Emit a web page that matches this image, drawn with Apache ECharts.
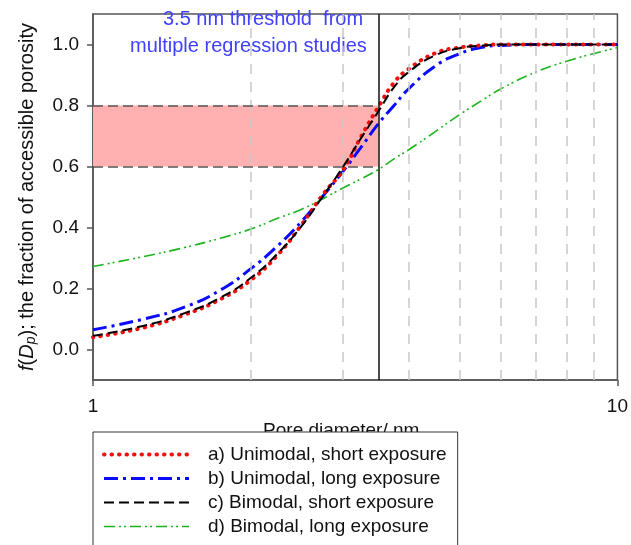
<!DOCTYPE html>
<html>
<head>
<meta charset="utf-8">
<script src="https://cdn.jsdelivr.net/npm/echarts@6/dist/echarts.min.js"></script>
<style>
  html, body { margin: 0; padding: 0; background: #fff; }
  #chart { width: 631px; height: 545px; }
</style>
</head>
<body>
<div id="chart"></div>
<script>
// pore diameter (nm) where the curves were read
var diameters = [1, 1.25, 1.5, 1.75, 2, 2.25, 2.5, 2.75, 3, 3.25, 3.5, 3.75, 4, 4.5, 5, 5.5, 6, 7, 8, 9, 10];

var uniShort = [0.040, 0.072, 0.115, 0.165, 0.228, 0.31, 0.41, 0.51, 0.59, 0.70, 0.795, 0.875, 0.92, 0.972, 0.99, 0.997, 1.0, 1.0, 1.0, 1.0, 1.0];
var uniLong  = [0.065, 0.10, 0.14, 0.195, 0.265, 0.34, 0.42, 0.505, 0.585, 0.665, 0.74, 0.80, 0.855, 0.93, 0.97, 0.99, 0.997, 1.0, 1.0, 1.0, 1.0];
var biShort  = [0.045, 0.078, 0.12, 0.17, 0.235, 0.315, 0.405, 0.505, 0.60, 0.695, 0.78, 0.86, 0.91, 0.965, 0.988, 0.996, 1.0, 1.0, 1.0, 1.0, 1.0];
var biLong   = [0.272, 0.305, 0.335, 0.365, 0.395, 0.43, 0.46, 0.495, 0.53, 0.56, 0.59, 0.625, 0.655, 0.715, 0.77, 0.815, 0.855, 0.91, 0.945, 0.97, 0.99];

var seriesNames = [
  'a) Unimodal, short exposure',
  'b) Unimodal, long exposure',
  'c) Bimodal, short exposure',
  'd) Bimodal, long exposure'
];

var yTicks = [0, 0.2, 0.4, 0.6, 0.8, 1.0];
var minorDiameters = [2, 3, 4, 5, 6, 7, 8, 9];
var threshold = 3.5;
var band = [0.6, 0.8];

function pairs(ys) {
  return diameters.map(function (d, i) { return [d, ys[i]]; });
}

var chart = echarts.init(document.getElementById('chart'));
var font = 'Liberation Sans, Arial, sans-serif';

var option = {
  animation: false,
  textStyle: { fontFamily: font },
  grid: {
    left: 93, right: 12, top: 14, bottom: 165,
    show: true, borderColor: '#555', borderWidth: 1.5
  },
  xAxis: {
    type: 'log',
    logBase: 10,
    min: 1,
    max: 10,
    name: 'Pore diameter/ nm',
    nameLocation: 'middle',
    nameGap: 39,
    nameTextStyle: { fontSize: 19, color: '#111', padding: [0, 28, 0, 0] },
    axisLine: { onZero: false, lineStyle: { color: '#555', width: 1.5 } },
    axisTick: { show: true, length: 6, lineStyle: { color: '#555', width: 1.5 } },
    axisLabel: { fontSize: 19, color: '#111', margin: 17 },
    splitLine: { show: false }
  },
  yAxis: {
    type: 'value',
    min: -0.1,
    max: 1.1,
    name: '{i|f}({i|D}{sub|p}); the fraction of accessible porosity',
    nameLocation: 'middle',
    nameGap: 55,
    nameRotate: 90,
    nameTextStyle: {
      fontSize: 20, color: '#111',
      rich: {
        i: { fontSize: 20, fontStyle: 'italic', color: '#111' },
        sub: { fontSize: 14, fontStyle: 'italic', color: '#111', verticalAlign: 'bottom', padding: [7, 0, 0, 0] }
      }
    },
    axisLine: { show: true, onZero: false, lineStyle: { color: '#555', width: 1.5 } },
    axisTick: { show: true, length: 6, customValues: yTicks, lineStyle: { color: '#555', width: 1.5 } },
    axisLabel: {
      fontSize: 19, color: '#111', margin: 14, customValues: yTicks,
      formatter: function (v) { return v.toFixed(1); }
    },
    splitLine: { show: false }
  },
  legend: {
    orient: 'vertical',
    left: 93,
    top: 432,
    height: 200,
    data: seriesNames,
    backgroundColor: '#fff',
    borderColor: '#333',
    borderWidth: 1,
    padding: [12, 11, 40, 9],
    itemWidth: 85,
    itemHeight: 14,
    itemGap: 3,
    itemStyle: { opacity: 0 },
    lineStyle: { width: 'inherit' },
    textStyle: { fontSize: 19, color: '#111', lineHeight: 21, padding: [0, 0, 0, 14] },
    selectedMode: false,
    z: 10
  },
  graphic: [
    { type: 'text', left: 163, top: 9, style: { text: '3.5 nm threshold  from', fontSize: 20, fill: '#4040ff', fontFamily: font } },
    { type: 'text', left: 130, top: 36, style: { text: 'multiple regression studies', fontSize: 20, fill: '#4040ff', fontFamily: font } }
  ],
  series: [
    {
      name: seriesNames[3],
      type: 'line',
      data: pairs(biLong),
      smooth: true,
      symbol: 'none',
      lineStyle: { color: '#1cb41c', width: 1.6, type: [11, 4, 2, 3, 2, 4] },
      itemStyle: { color: '#1cb41c' },
      markArea: {
        silent: true,
        itemStyle: { color: '#ffb0b0' },
        data: [[{ coord: [1, band[0]] }, { coord: [threshold, band[1]] }]]
      },
      markLine: {
        silent: true,
        symbol: 'none',
        label: { show: false },
        lineStyle: { color: '#c8c8c8', width: 1.5, type: [10, 8] },
        data: minorDiameters.map(function (d) { return { xAxis: d }; })
      },
      z: 2
    },
    {
      name: seriesNames[1],
      type: 'line',
      data: pairs(uniLong),
      smooth: true,
      symbol: 'none',
      lineStyle: { color: '#0a0aff', width: 3, type: [14, 5, 3, 5] },
      itemStyle: { color: '#0a0aff' },
      markLine: {
        silent: true,
        symbol: 'none',
        label: { show: false },
        data: [
          { xAxis: threshold, lineStyle: { color: '#111', width: 1.5, type: 'solid' } },
          [{ coord: [1, band[1]], lineStyle: { color: '#555', width: 1.5, type: [10, 5] } }, { coord: [threshold, band[1]] }],
          [{ coord: [1, band[0]], lineStyle: { color: '#555', width: 1.5, type: [10, 5] } }, { coord: [threshold, band[0]] }]
        ]
      },
      z: 3
    },
    {
      name: seriesNames[0],
      type: 'line',
      data: pairs(uniShort),
      smooth: true,
      symbol: 'none',
      lineStyle: { color: '#f01010', width: 4, type: [0.5, 7], cap: 'round' },
      itemStyle: { color: '#f01010' },
      z: 4
    },
    {
      name: seriesNames[2],
      type: 'line',
      data: pairs(biShort),
      smooth: true,
      symbol: 'none',
      lineStyle: { color: '#000', width: 2, type: [10, 5] },
      itemStyle: { color: '#000' },
      z: 5
    }
  ]
};

chart.setOption(option);
</script>
</body>
</html>
